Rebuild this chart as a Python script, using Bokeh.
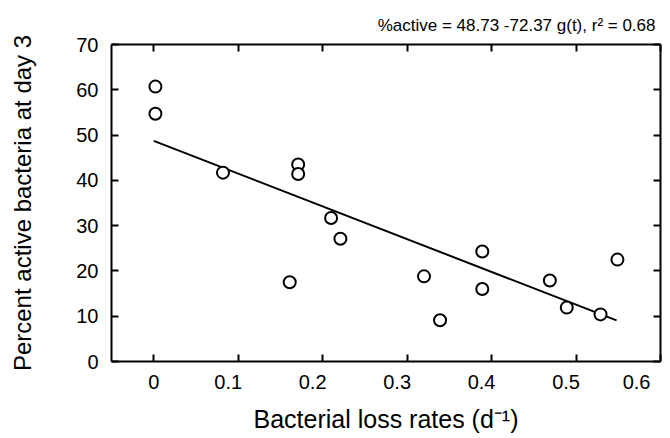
from bokeh.plotting import figure
from bokeh.models import LinearAxis, FixedTicker, ColumnDataSource
from bokeh.embed import file_html
from bokeh.resources import INLINE

# ---- data ----
loss_rate = [0.002, 0.002, 0.082, 0.171, 0.171, 0.210, 0.221, 0.161,
             0.320, 0.339, 0.389, 0.389, 0.469, 0.489, 0.529, 0.549]
pct_active = [60.7, 54.7, 41.7, 43.5, 41.4, 31.7, 27.1, 17.5,
              18.8, 9.1, 24.3, 16.0, 17.9, 11.9, 10.4, 22.5]

fit_intercept = 48.73
fit_slope = -72.37
fit_x = [0.0, 0.548]
fit_y = [fit_intercept + fit_slope * v for v in fit_x]

x_ticks = [0, 0.1, 0.2, 0.3, 0.4, 0.5, 0.6]
x_tick_labels = ["0", "0.1", "0.2", "0.3", "0.4", "0.5", "0.6"]
y_ticks = [0, 10, 20, 30, 40, 50, 60, 70]
y_tick_labels = ["0", "10", "20", "30", "40", "50", "60", "70"]

title_text = "%active = 48.73 -72.37 g(t), r\u00b2 = 0.68"
x_label = "Bacterial loss rates (d\u207b\u00b9)"
y_label = "Percent active bacteria at day 3"

FONT = "Liberation Sans"

p = figure(width=670, height=438, x_range=(-0.05, 0.6), y_range=(0, 70),
           output_backend="svg", toolbar_location=None,
           x_axis_location=None, y_axis_location=None,
           min_border_left=111, min_border_right=10,
           min_border_top=44, min_border_bottom=77)
p.outline_line_color = None
p.xgrid.visible = False
p.ygrid.visible = False
p.background_fill_color = "white"
p.border_fill_color = "white"

p.title.text = title_text
p.title.align = "right"
p.title.vertical_align = "top"
p.title.text_font = FONT
p.title.text_font_size = "17px"
p.title.text_font_style = "normal"
p.title.text_color = "black"
p.title.standoff = 16
p.title.offset = 5


def style_axis(ax, show_labels):
    ax.axis_line_width = 2
    ax.axis_line_color = "black"
    ax.major_tick_line_width = 2
    ax.major_tick_line_color = "black"
    ax.major_tick_in = 7
    ax.major_tick_out = 0
    ax.minor_tick_line_color = None
    if show_labels:
        ax.major_label_text_font = FONT
        ax.major_label_text_font_size = "20px"
        ax.major_label_text_color = "black"
        ax.axis_label_text_font = FONT
        ax.axis_label_text_font_size = "24px"
        ax.axis_label_text_font_style = "normal"
        ax.axis_label_text_color = "black"
    else:
        ax.major_label_text_font_size = "1px"
        ax.major_label_text_color = None
        ax.major_label_standoff = 0


xb = LinearAxis(ticker=FixedTicker(ticks=x_ticks), axis_label=x_label)
# the original places the decimal labels a little left of their ticks
xb.major_label_overrides = {t: (s if s == "0" else s + "\u2003")
                            for t, s in zip(x_ticks, x_tick_labels)}
style_axis(xb, True)
xb.axis_label_text_font_size = "25px"
xb.major_label_standoff = 9
xb.axis_label_standoff = 9
p.add_layout(xb, "below")

yl = LinearAxis(ticker=FixedTicker(ticks=y_ticks), axis_label=y_label)
yl.major_label_overrides = dict(zip(y_ticks, y_tick_labels))
style_axis(yl, True)
yl.major_label_standoff = 13
yl.axis_label_standoff = 37
p.add_layout(yl, "left")

xt = LinearAxis(ticker=FixedTicker(ticks=x_ticks))
style_axis(xt, False)
p.add_layout(xt, "above")

yr = LinearAxis(ticker=FixedTicker(ticks=y_ticks))
style_axis(yr, False)
p.add_layout(yr, "right")

p.line(fit_x, fit_y, line_color="black", line_width=2)

src = ColumnDataSource(data=dict(x=loss_rate, y=pct_active))
p.scatter("x", "y", source=src, marker="circle", size=12,
          fill_color="white", line_color="black", line_width=2)

open("out.html", "w").write(file_html(p, INLINE))
